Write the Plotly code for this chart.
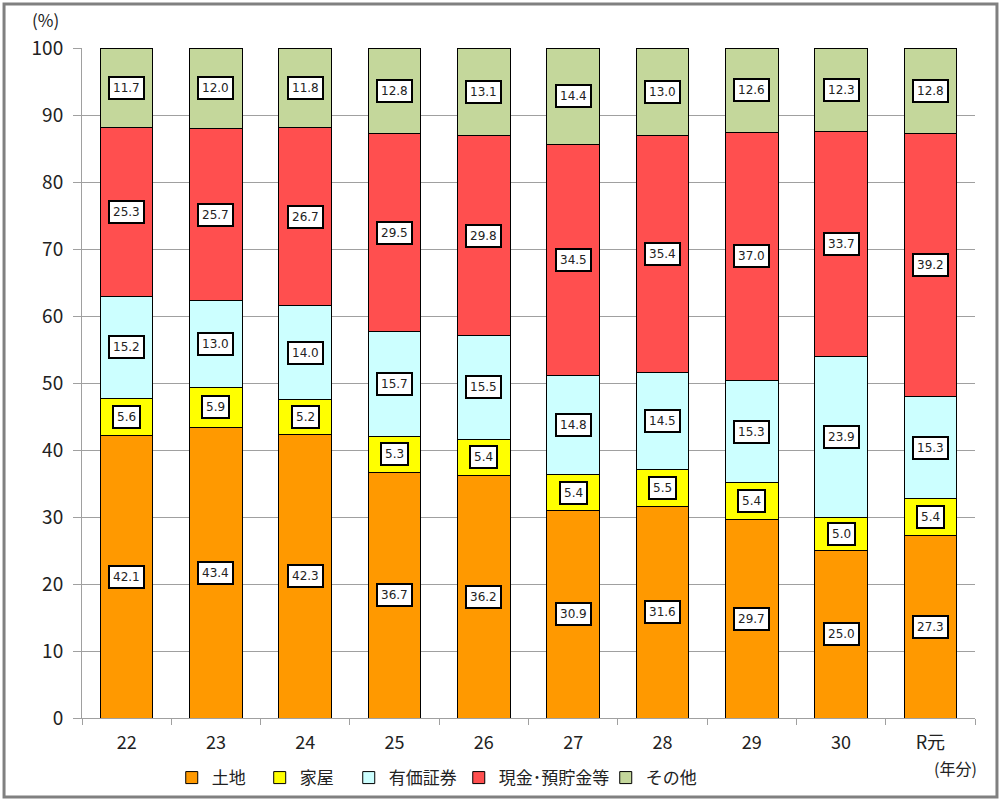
import plotly.graph_objects as go

categories = ["22", "23", "24", "25", "26", "27", "28", "29", "30", "R元"]
series_names = ["土地", "家屋", "有価証券", "現金･預貯金等", "その他"]
land = [42.1, 43.4, 42.3, 36.7, 36.2, 30.9, 31.6, 29.7, 25.0, 27.3]
house = [5.6, 5.9, 5.2, 5.3, 5.4, 5.4, 5.5, 5.4, 5.0, 5.4]
securities = [15.2, 13.0, 14.0, 15.7, 15.5, 14.8, 14.5, 15.3, 23.9, 15.3]
cash = [25.3, 25.7, 26.7, 29.5, 29.8, 34.5, 35.4, 37.0, 33.7, 39.2]
other = [11.7, 12.0, 11.8, 12.8, 13.1, 14.4, 13.0, 12.6, 12.3, 12.8]
y_ticks = [0, 10, 20, 30, 40, 50, 60, 70, 80, 90, 100]

series = [land, house, securities, cash, other]
colors = ["#FF9900", "#FFFF00", "#CCFFFF", "#FF4F4F", "#C4D79B"]
legend_ids = ["legend2", "legend3", "legend4", "legend5", "legend6"]
legend_x = [0.1005, 0.199, 0.2987, 0.4219, 0.5865]

JP = "Noto Sans CJK JP, sans-serif"
TXT = "#222222"

fig = go.Figure()
for name, vals, col, lid in zip(series_names, series, colors, legend_ids):
    fig.add_trace(go.Bar(
        x=categories, y=vals, name=name, legend=lid,
        marker=dict(color=col, line=dict(color="#000000", width=1)),
    ))

annotations = []
for i in range(len(categories)):
    base = 0.0
    for vals in series:
        v = vals[i]
        annotations.append(dict(
            x=i, y=base + v / 2, xref="x", yref="y",
            text=f"{v:.1f}", showarrow=False,
            font=dict(family="DejaVu Sans, sans-serif", size=12, color=TXT),
            bgcolor="#FFFFFF", bordercolor="#000000", borderwidth=2, borderpad=3,
        ))
        base += v

annotations.append(dict(x=-0.041, y=1.042, xref="paper", yref="paper", text="(%)",
                        showarrow=False, font=dict(family=JP, size=17, color=TXT),
                        xanchor="center", yanchor="middle"))
annotations.append(dict(x=0.978, y=-0.0746, xref="paper", yref="paper", text="(年分)",
                        showarrow=False, font=dict(family=JP, size=16, color=TXT),
                        xanchor="center", yanchor="middle"))

legends = {}
for lid, lx in zip(legend_ids, legend_x):
    legends[lid] = dict(
        orientation="h", x=lx, y=-0.0896, xanchor="left", yanchor="middle",
        font=dict(family=JP, size=17, color=TXT), itemwidth=30,
        bgcolor="rgba(0,0,0,0)",
    )

fig.update_layout(
    barmode="stack",
    width=1003, height=803,
    margin=dict(l=82, r=28, t=48, b=85, autoexpand=False),
    plot_bgcolor="#FFFFFF", paper_bgcolor="#FFFFFF",
    bargap=0.41,
    showlegend=True,
    font=dict(family=JP, size=17, color=TXT),
    xaxis=dict(
        type="category", range=[-0.5, 9.5], showline=True, linecolor="#A0A0A0",
        linewidth=1, ticks="outside", tickcolor="#A0A0A0", ticklen=6,
        tickson="boundaries", tickangle=0, ticklabelstandoff=8,
        showgrid=False, tickfont=dict(family=JP, size=18, color=TXT),
    ),
    yaxis=dict(
        range=[0, 100], tickvals=y_ticks, showline=True, linecolor="#A0A0A0",
        linewidth=1, ticks="outside", tickcolor="#A0A0A0", ticklen=8,
        ticklabelstandoff=6,
        showgrid=True, gridcolor="#A0A0A0", gridwidth=1, zeroline=False,
        tickfont=dict(family=JP, size=19, color=TXT),
    ),
    annotations=annotations,
    shapes=[dict(type="rect", xref="paper", yref="paper",
                 x0=-0.0873, x1=1.0246, y0=-0.118, y1=1.0657,
                 line=dict(color="#808080", width=3), fillcolor="rgba(0,0,0,0)",
                 layer="below")],
    **legends,
)

fig.write_html("out.html",
               config={"displayModeBar": False},
               post_script="document.body.style.margin='0';document.body.style.overflow='hidden';")
